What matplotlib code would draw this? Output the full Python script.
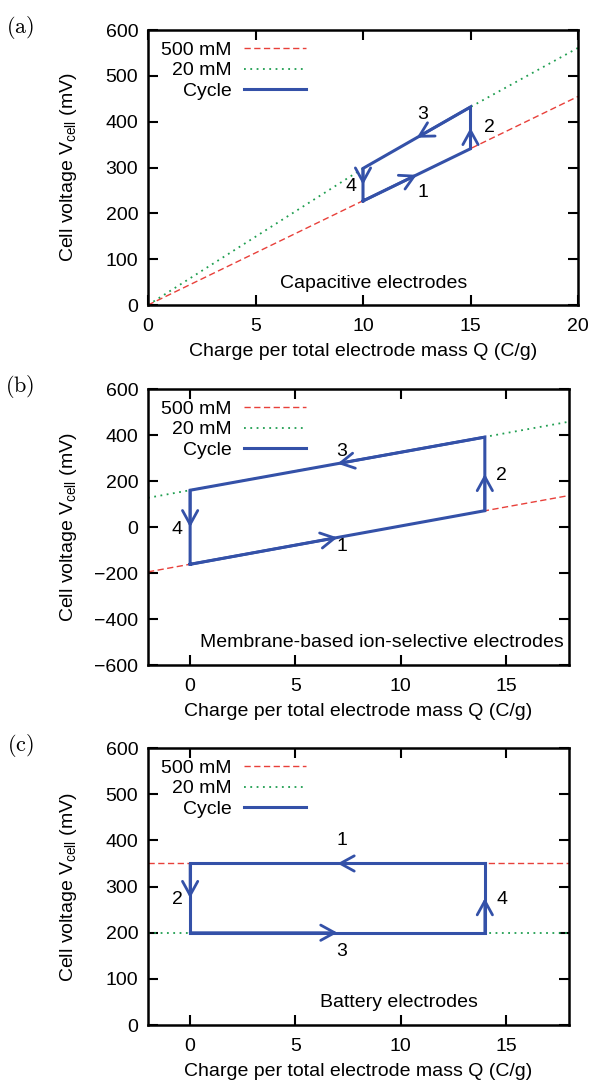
import matplotlib
matplotlib.use("Agg")
import matplotlib.pyplot as plt
from matplotlib.lines import Line2D

plt.rcParams["font.family"] = ["Liberation Sans", "DejaVu Sans"]
plt.rcParams["mathtext.fontset"] = "custom"
plt.rcParams["mathtext.rm"] = "Liberation Sans"
plt.rcParams["mathtext.it"] = "Liberation Sans:italic"

RED = "#e8403a"
GREEN = "#1f9e50"
BLUE = "#3451a8"
FS = 14

# (a) capacitive electrodes
qa_500 = [0, 20]
va_500 = [0, 455]
qa_20 = [0, 10, 15, 20]
va_20 = [0, 298, 432, 561]
qa_cyc = [10, 15, 15, 10, 10]
va_cyc = [227, 341, 432, 298, 227]

# (b) membrane-based ion-selective electrodes
qb_500 = [-2, 18]
vb_500 = [-195, 137]
qb_20 = [-2, 18]
vb_20 = [127, 458]
qb_cyc = [0, 14, 14, 0, 0]
vb_cyc = [-162, 71, 391, 160, -162]

# (c) battery electrodes
qc_500 = [-2, 18]
vc_500 = [350, 350]
qc_20 = [-2, 18]
vc_20 = [200, 200]
qc_cyc = [14, 0, 0, 14, 14]
vc_cyc = [350, 350, 200, 200, 350]

step_labels = ["1", "2", "3", "4"]

fig = plt.figure(figsize=(5.93, 10.87), dpi=100)

panels = [
    dict(rect=[0.2496, 0.7194, 0.7251, 0.2530], wpx=430, tag="(a)", tagy=0.975,
         q5=qa_500, v5=va_500, q2=qa_20, v2=va_20, qc=qa_cyc, vc=va_cyc,
         xlim=(0, 20), xt=[0, 5, 10, 15, 20], ylim=(0, 600), yt=range(0, 601, 100),
         note="Capacitive electrodes", note_xy=(10.5, 47), note_ha="center",
         lab_xy=[(12.77, 245), (15.87, 388), (12.77, 415), (9.45, 259)]),
    dict(rect=[0.2496, 0.3882, 0.7100, 0.2539], wpx=421, tag="(b)", tagy=0.644,
         q5=qb_500, v5=vb_500, q2=qb_20, v2=vb_20, qc=qb_cyc, vc=vb_cyc,
         xlim=(-2, 18), xt=[0, 5, 10, 15], ylim=(-600, 600), yt=range(-600, 601, 200),
         note="Membrane-based ion-selective electrodes", note_xy=(17.75, -504), note_ha="right",
         lab_xy=[(7.2, -86), (14.8, 226), (7.2, 328), (-0.6, -10)]),
    dict(rect=[0.2496, 0.0570, 0.7100, 0.2548], wpx=421, tag="(c)", tagy=0.3146,
         q5=qc_500, v5=vc_500, q2=qc_20, v2=vc_20, qc=qc_cyc, vc=vc_cyc,
         xlim=(-2, 18), xt=[0, 5, 10, 15], ylim=(0, 600), yt=range(0, 601, 100),
         note="Battery electrodes", note_xy=(9.9, 48), note_ha="center",
         lab_xy=[(7.2, 400), (-0.6, 272), (7.2, 160), (14.8, 272)]),
]

for p in panels:
    ax = fig.add_axes(p["rect"])
    ax.plot(p["q5"], p["v5"], color=RED, lw=1.0, ls=(0, (4.5, 2.5)), zorder=2)
    ax.plot(p["q2"], p["v2"], color=GREEN, lw=1.3, ls=(0, (1, 2.5)), zorder=2)
    ax.plot(p["qc"], p["vc"], color=BLUE, lw=2.2, zorder=3, solid_joinstyle="miter")

    # direction arrows at the midpoint of each edge
    qc, vc = p["qc"], p["vc"]
    for i in range(4):
        xm = (qc[i] + qc[i + 1]) / 2
        ym = (vc[i] + vc[i + 1]) / 2
        ax.annotate("", xy=(xm, ym), xytext=(qc[i], vc[i]),
                    arrowprops=dict(arrowstyle="->,head_length=1.0,head_width=0.55",
                                    color=BLUE, lw=2.0, shrinkA=0, shrinkB=0,
                                    mutation_scale=10),
                    zorder=4)
        lx, ly = p["lab_xy"][i]
        ax.text(lx, ly, step_labels[i], fontsize=FS, ha="center", va="center")

    ax.text(p["note_xy"][0], p["note_xy"][1], p["note"], fontsize=FS,
            ha=p["note_ha"], va="center")

    ax.set_xlim(p["xlim"])
    ax.set_ylim(p["ylim"])
    ax.set_xticks(p["xt"])
    ax.set_yticks(list(p["yt"]))
    ax.tick_params(direction="in", top=True, right=True, length=7, width=1.5,
                   labelsize=FS)
    ax.tick_params(axis="x", pad=9)
    ax.tick_params(axis="y", pad=7)
    for s in ax.spines.values():
        s.set_linewidth(1.8)
    ax.set_xlabel("Charge per total electrode mass Q (C/g)", fontsize=FS, labelpad=6)
    ax.set_ylabel("Cell voltage V$_{\\mathrm{cell}}$ (mV)", fontsize=FS)
    ax.yaxis.set_label_coords((79 - 148) / p["wpx"], 0.5)

    handles = [Line2D([], [], color=RED, lw=1.0, ls=(0, (4.5, 2.5))),
               Line2D([], [], color=GREEN, lw=1.3, ls=(0, (1, 2.5))),
               Line2D([], [], color=BLUE, lw=2.2)]
    ax.legend(handles, ["500 mM", "20 mM", "Cycle"], loc="upper right",
              bbox_to_anchor=((306 - 148) / p["wpx"], 0.96), frameon=False,
              markerfirst=False, fontsize=FS, handlelength=3.2, handletextpad=0.62,
              labelspacing=0.16, borderpad=0, borderaxespad=0)

    fig.text(0.034, p["tagy"], "$\\mathrm{" + p["tag"] + "}$", fontsize=16,
             math_fontfamily="cm", ha="center", va="center")

fig.savefig("out.png", dpi=100)
